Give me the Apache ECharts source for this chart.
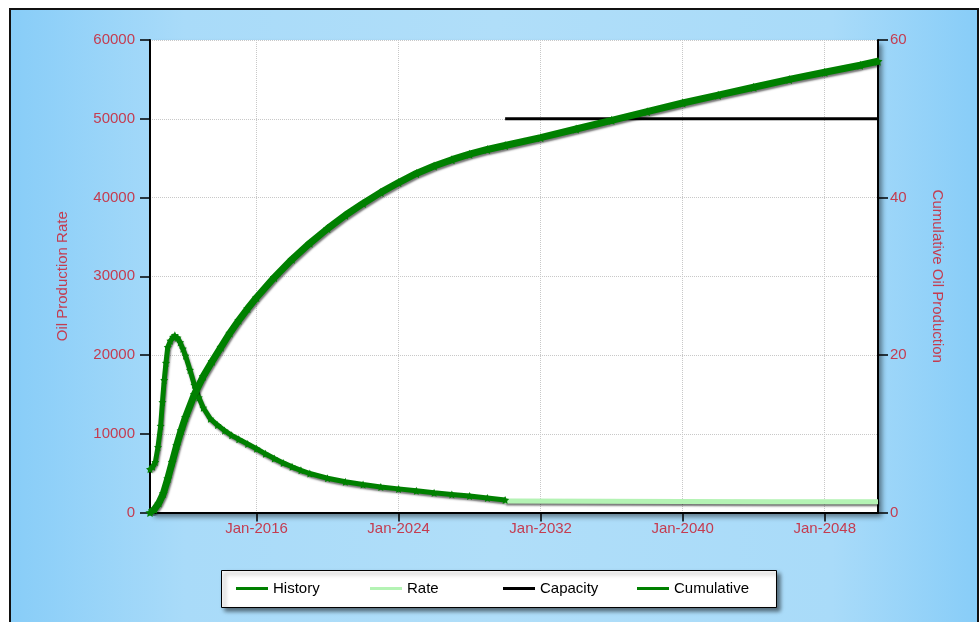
<!DOCTYPE html>
<html lang="en">
<head>
    <meta charset="UTF-8">
    <title>Oil Production</title>
    <script src="https://cdn.jsdelivr.net/npm/echarts@6/dist/echarts.min.js"></script>
    <style>
        body { margin: 0; background: #fff; }
        #panel {
            position: absolute; left: 9px; top: 8px; width: 970px; height: 620px;
            box-sizing: border-box; border: 2px solid #111;
            background: linear-gradient(to right, #88cdf8 0%, #a9dbf9 18%, #b0def9 50%, #a9dbf9 85%, #88cdf8 100%);
        }
    </style>
</head>
<body>
   <div id="panel"></div>
   <div id="main" style="position:absolute;left:0;top:0;width:980px;height:622px;"></div>
   <script type="text/javascript">
       // x axis ticks (years)
       var tickYears = [2016, 2024, 2032, 2040, 2048];

       // History: oil production rate
       var historyYears = [2010.0, 2010.15, 2010.3, 2010.45, 2010.6, 2010.7, 2010.8, 2010.9, 2011.0, 2011.15,
           2011.3, 2011.4, 2011.55, 2011.7, 2011.85, 2012.0, 2012.25, 2012.5, 2012.75, 2013.0,
           2013.4, 2013.8, 2014.2, 2014.6, 2015.0, 2015.5, 2016.0, 2016.5, 2017.0, 2017.5,
           2018.0, 2018.5, 2019.0, 2020.0, 2021.0, 2022.0, 2023.0, 2024.0, 2025.0, 2026.0,
           2027.0, 2028.0, 2029.0, 2030.0];
       var historyRate = [5500, 5800, 6400, 8300, 11000, 14000, 16800, 19000, 21000, 21800,
           22300, 22500, 22200, 21600, 20800, 19900, 18100, 16200, 14600, 13300,
           11900, 11100, 10400, 9800, 9300, 8700, 8100, 7450, 6850, 6300,
           5800, 5350, 4950, 4350, 3900, 3550, 3250, 3000, 2750, 2500,
           2300, 2100, 1850, 1600];

       // Rate: forecast
       var rateYears = [2030, 2035, 2040, 2045, 2051];
       var rateValues = [1450, 1420, 1400, 1380, 1360];

       // Capacity
       var capacityYears = [2030, 2051];
       var capacityValues = [50000, 50000];

       // Cumulative oil production (right axis)
       var cumYears = [2010.0, 2010.25, 2010.5, 2010.75, 2011.0, 2011.25, 2011.5, 2011.75, 2012.0, 2012.5,
           2013.0, 2013.5, 2014.0, 2014.5, 2015.0, 2015.5, 2016, 2017, 2018, 2019,
           2020, 2021, 2022, 2023, 2024, 2025, 2026, 2027, 2028, 2029,
           2030, 2032, 2034, 2036, 2038, 2040, 2042, 2044, 2046, 2048, 2050, 2051];
       var cumValues = [0, 0.4, 1.2, 2.4, 4.3, 6.4, 8.5, 10.4, 12.1, 15.0,
           17.3, 19.2, 21.0, 22.8, 24.4, 25.9, 27.3, 29.85, 32.15, 34.2,
           36.05, 37.75, 39.25, 40.65, 41.9, 43.05, 44.0, 44.8, 45.5, 46.1,
           46.6, 47.6, 48.7, 49.8, 50.9, 52.0, 53.0, 54.0, 55.0, 55.9, 56.8, 57.3];

       var legendNames = ['History', 'Rate', 'Capacity', 'Cumulative'];
       var legendLeft = [236, 370, 503, 637];

       function pairs(xs, ys) {
           var out = [];
           for (var i = 0; i < xs.length; i++) out.push([xs[i], ys[i]]);
           return out;
       }

       var red = '#c43c50';
       var font = "'Liberation Sans', Arial, sans-serif";
       var fs = 15;
       var star = 'path://M0,-10 L2.9,-4 9.5,-3.1 4.8,1.5 5.9,8.1 0,5 -5.9,8.1 -4.8,1.5 -9.5,-3.1 -2.9,-4 Z';
       var shadow = { shadowColor: 'rgba(0,0,0,0.55)', shadowBlur: 2, shadowOffsetX: 1, shadowOffsetY: 2 };

       var legends = legendNames.map(function (n, i) {
           return {
               left: legendLeft[i], top: 581, padding: 0, z: 10,
               icon: 'rect', itemWidth: 32, itemHeight: 3,
               textStyle: { fontSize: fs, color: '#000', fontFamily: font },
               data: [n]
           };
       });

       var myChart = echarts.init(document.getElementById('main'));

       var option = {
           animation: false,
           textStyle: { fontFamily: font },
           grid: {
               show: true, left: 150, top: 40, right: 102, bottom: 109.5,
               backgroundColor: '#fff', borderWidth: 0,
               shadowColor: 'rgba(0,0,0,0.45)', shadowBlur: 5, shadowOffsetX: 4, shadowOffsetY: 4
           },
           graphic: [{
               type: 'rect', left: 221, top: 570, z: 0,
               shape: { width: 555, height: 37 },
               style: {
                   fill: '#fff', stroke: '#000', lineWidth: 1,
                   shadowColor: 'rgba(0,0,0,0.5)', shadowBlur: 4, shadowOffsetX: 3, shadowOffsetY: 3
               }
           }],
           legend: legends,
           xAxis: {
               type: 'value', min: 2010, max: 2051,
               axisLine: { lineStyle: { color: '#000', width: 2 } },
               axisTick: { customValues: tickYears, length: 9, lineStyle: { color: '#000', width: 1.5 } },
               axisLabel: {
                   customValues: tickYears, margin: 9, fontSize: fs, color: red, fontFamily: font,
                   formatter: function (v) { return 'Jan-' + v; }
               },
               splitLine: { show: true, lineStyle: { color: '#c8c8c8', type: 'dotted' } }
           },
           yAxis: [{
               type: 'value', min: 0, max: 60000, interval: 10000, position: 'left',
               name: 'Oil Production Rate', nameLocation: 'middle', nameGap: 80, nameRotate: 90,
               nameTextStyle: { color: red, fontSize: fs, fontFamily: font },
               axisLine: { show: true, lineStyle: { color: '#000', width: 2 } },
               axisTick: { show: true, length: 10, lineStyle: { color: '#000', width: 1.5 } },
               axisLabel: { margin: 15, fontSize: fs, color: red, fontFamily: font,
                   formatter: function (v) { return String(v); } },
               splitLine: { show: true, lineStyle: { color: '#c8c8c8', type: 'dotted' } }
           }, {
               type: 'value', min: 0, max: 60, interval: 20, position: 'right',
               name: 'Cumulative Oil Production', nameLocation: 'middle', nameGap: 52, nameRotate: -90,
               nameTextStyle: { color: red, fontSize: fs, fontFamily: font },
               axisLine: { show: true, lineStyle: { color: '#000', width: 2 } },
               axisTick: { show: true, length: 10, lineStyle: { color: '#000', width: 1.5 } },
               axisLabel: { margin: 12, fontSize: fs, color: red, fontFamily: font,
                   formatter: function (v) { return String(v); } },
               splitLine: { show: false }
           }],
           series: [{
               name: 'History', type: 'line', yAxisIndex: 0,
               data: pairs(historyYears, historyRate),
               symbol: star, symbolSize: 8, showSymbol: true,
               itemStyle: { color: '#008000' },
               lineStyle: Object.assign({ color: '#008000', width: 5 }, shadow)
           }, {
               name: 'Rate', type: 'line', yAxisIndex: 0,
               data: pairs(rateYears, rateValues),
               symbol: 'none',
               itemStyle: { color: '#b4f3b4' },
               lineStyle: Object.assign({ color: '#b4f3b4', width: 5 }, shadow)
           }, {
               name: 'Capacity', type: 'line', yAxisIndex: 0,
               data: pairs(capacityYears, capacityValues),
               symbol: 'none',
               itemStyle: { color: '#000' },
               lineStyle: { color: '#000', width: 3 }
           }, {
               name: 'Cumulative', type: 'line', yAxisIndex: 1,
               data: pairs(cumYears, cumValues),
               symbol: star, symbolSize: 9, showSymbol: true,
               itemStyle: { color: '#008000' },
               lineStyle: Object.assign({ color: '#008000', width: 7 }, shadow)
           }]
       };

       myChart.setOption(option);
   </script>
</body>
</html>
